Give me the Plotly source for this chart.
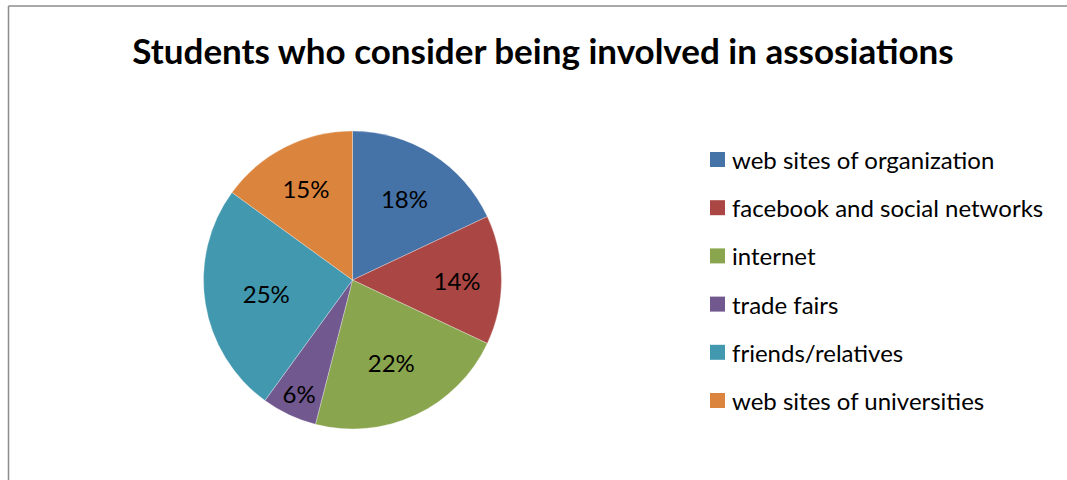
import plotly.graph_objects as go

# Survey shares (percent), listed clockwise from 12 o'clock
categories = [
    "web sites of organization",
    "facebook and social networks",
    "internet",
    "trade fairs",
    "friends/relatives",
    "web sites of universities",
]
shares = [18, 14, 22, 6, 25, 15]
colors = ["#4572A7", "#AA4643", "#89A54E", "#71588F", "#4198AF", "#DB843D"]

W, H = 1067, 480
FONT = "Lato"

fig = go.Figure(
    go.Pie(
        labels=categories,
        values=shares,
        sort=False,
        direction="clockwise",
        rotation=0,
        marker=dict(colors=colors, line=dict(color="rgba(255,255,255,0.6)", width=0.5)),
        texttemplate="%{value}%",
        textposition="inside",
        insidetextorientation="horizontal",
        insidetextfont=dict(family=FONT, size=24, color="#000000"),
        hoverinfo="label+percent",
        showlegend=False,
        domain=dict(x=[203.5 / W, 501.5 / W], y=[(H - 429) / H, (H - 131) / H]),
    )
)

shapes = [
    # chart-area frame (left and top edges)
    dict(type="line", xref="paper", yref="paper",
         x0=8.5 / W, x1=1.0, y0=(H - 6) / H, y1=(H - 6) / H,
         line=dict(color="#8C8C8C", width=1.5)),
    dict(type="line", xref="paper", yref="paper",
         x0=8.5 / W, x1=8.5 / W, y0=0, y1=(H - 6) / H,
         line=dict(color="#8C8C8C", width=1.5)),
]
annotations = []

# legend: colour square + label per category
row0, step = 159.5, 48.2
for i, (name, col) in enumerate(zip(categories, colors)):
    yc = row0 + i * step
    shapes.append(dict(type="rect", xref="paper", yref="paper",
                       x0=710 / W, x1=725 / W,
                       y0=(H - yc - 7.5) / H, y1=(H - yc + 7.5) / H,
                       fillcolor=col, line=dict(width=0)))
    annotations.append(dict(xref="paper", yref="paper", x=730 / W, y=(H - yc) / H,
                            xanchor="left", yanchor="middle", showarrow=False,
                            text=name, font=dict(family=FONT, size=24, color="#000000")))

fig.update_layout(
    width=W, height=H,
    margin=dict(l=0, r=0, t=0, b=0),
    paper_bgcolor="white",
    plot_bgcolor="white",
    title=dict(text="<b>Students who consider being involved in assosiations</b>",
               x=543 / W, xanchor="center", y=(H - 52) / H, yanchor="middle",
               font=dict(family=FONT, size=35, color="#000000")),
    shapes=shapes,
    annotations=annotations,
)

fig.write_html("out.html")
